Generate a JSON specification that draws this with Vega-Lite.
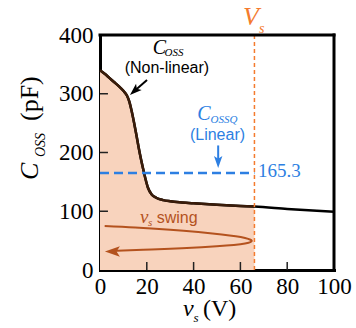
{
  "$schema": "https://vega.github.io/schema/vega-lite/v6.json",
  "width": 234,
  "height": 235,
  "autosize": "none",
  "padding": {"left": 100, "top": 35, "right": 22, "bottom": 58},
  "config": {
    "view": {"stroke": null},
    "axis": {
      "labelFont": "Liberation Serif",
      "labelFontSize": 23,
      "labelColor": "black",
      "ticks": false,
      "domainColor": "black",
      "domainWidth": 3,
      "domainCap": "square",
      "grid": false,
      "title": null,
      "zindex": 1
    }
  },
  "datasets": {
    "coss": [
      {"v": 0, "c": 340}, {"v": 2, "c": 334}, {"v": 4, "c": 327}, {"v": 6, "c": 320},
      {"v": 8, "c": 313}, {"v": 10, "c": 305}, {"v": 11.5, "c": 297}, {"v": 12.5, "c": 287},
      {"v": 13.5, "c": 271}, {"v": 14.5, "c": 252}, {"v": 15.5, "c": 231}, {"v": 16.5, "c": 209},
      {"v": 17.5, "c": 189}, {"v": 18.5, "c": 171}, {"v": 19.5, "c": 154}, {"v": 20.5, "c": 140},
      {"v": 22, "c": 129}, {"v": 24, "c": 123}, {"v": 27, "c": 119}, {"v": 30, "c": 117},
      {"v": 35, "c": 115}, {"v": 40, "c": 113.5}, {"v": 50, "c": 111}, {"v": 60, "c": 109},
      {"v": 66, "c": 108}, {"v": 80, "c": 104}, {"v": 100, "c": 99}
    ],
    "swing": [
      {"o": 1, "v": 2, "c": 75}, {"o": 2, "v": 15, "c": 72.5}, {"o": 3, "v": 30, "c": 68.5},
      {"o": 4, "v": 42, "c": 64.5}, {"o": 5, "v": 52, "c": 60.5}, {"o": 6, "v": 58, "c": 57.5},
      {"o": 7, "v": 62, "c": 54.5}, {"o": 8, "v": 64.3, "c": 51.5}, {"o": 9, "v": 64.8, "c": 49},
      {"o": 10, "v": 63.5, "c": 46.5}, {"o": 11, "v": 60, "c": 44}, {"o": 12, "v": 54, "c": 41.5},
      {"o": 13, "v": 45, "c": 39}, {"o": 14, "v": 35, "c": 37}, {"o": 15, "v": 22, "c": 35},
      {"o": 16, "v": 10, "c": 33}, {"o": 17, "v": 5, "c": 32}
    ],
    "xticks": [{"v": 20, "c": 0, "c2": 13.6}, {"v": 40, "c": 0, "c2": 13.6}, {"v": 60, "c": 0, "c2": 13.6}, {"v": 80, "c": 0, "c2": 13.6}],
    "yticks": [{"c": 100, "v": 0, "v2": 3.4}, {"c": 200, "v": 0, "v2": 3.4}, {"c": 300, "v": 0, "v2": 3.4}]
  },
  "layer": [
    {
      "data": {"name": "coss"},
      "transform": [{"filter": "datum.v <= 66"}],
      "mark": {"type": "area", "color": "#F8D3BD", "interpolate": "monotone", "opacity": 1},
      "encoding": {
        "x": {"field": "v", "type": "quantitative", "scale": {"domain": [0, 100], "nice": false},
              "axis": {"values": [0, 20, 40, 60, 80, 100], "labelPadding": 5, "labelFlush": false}},
        "y": {"field": "c", "type": "quantitative", "scale": {"domain": [0, 400], "nice": false},
              "axis": {"values": [0, 100, 200, 300, 400], "labelPadding": 7}}
      }
    },
    {
      "data": {"name": "xticks"},
      "mark": {"type": "rule", "color": "#222", "strokeWidth": 1.5},
      "encoding": {
        "x": {"field": "v", "type": "quantitative"},
        "y": {"field": "c", "type": "quantitative"},
        "y2": {"field": "c2"}
      }
    },
    {
      "data": {"name": "yticks"},
      "mark": {"type": "rule", "color": "#222", "strokeWidth": 1.5},
      "encoding": {
        "x": {"field": "v", "type": "quantitative"},
        "x2": {"field": "v2"},
        "y": {"field": "c", "type": "quantitative"}
      }
    },
    {
      "data": {"name": "coss"},
      "mark": {"type": "line", "color": "black", "strokeWidth": 2.5, "interpolate": "monotone"},
      "encoding": {
        "x": {"field": "v", "type": "quantitative"},
        "y": {"field": "c", "type": "quantitative"}
      }
    },
    {
      "data": {"name": "coss"},
      "transform": [{"filter": "datum.v <= 66"}],
      "mark": {"type": "line", "color": "#3A1C0A", "strokeWidth": 2.5, "interpolate": "monotone"},
      "encoding": {
        "x": {"field": "v", "type": "quantitative"},
        "y": {"field": "c", "type": "quantitative"}
      }
    },
    {
      "data": {"values": [{"c": 165.3, "v1": 0, "v2": 66}]},
      "mark": {"type": "rule", "color": "#2D7FE2", "strokeWidth": 2.5, "strokeDash": [9, 5]},
      "encoding": {
        "x": {"field": "v1", "type": "quantitative"},
        "x2": {"field": "v2"},
        "y": {"field": "c", "type": "quantitative"}
      }
    },
    {
      "data": {"values": [{"v": 66, "c1": 0, "c2": 404}]},
      "mark": {"type": "rule", "color": "#F47B2E", "strokeWidth": 1.5, "strokeDash": [4, 3]},
      "encoding": {
        "x": {"field": "v", "type": "quantitative"},
        "y": {"field": "c1", "type": "quantitative"},
        "y2": {"field": "c2"}
      }
    },
    {
      "data": {"name": "swing"},
      "mark": {"type": "line", "color": "#B4521E", "strokeWidth": 2, "interpolate": "cardinal"},
      "encoding": {
        "x": {"field": "v", "type": "quantitative"},
        "y": {"field": "c", "type": "quantitative"},
        "order": {"field": "o", "type": "quantitative"}
      }
    },
    {
      "data": {"values": [{"v": 5.3, "c": 31.5}]},
      "mark": {"type": "point", "shape": "M0,-1L0.7,1L0,0.55L-0.7,1Z", "size": 225, "angle": 270, "filled": true, "color": "#B4521E", "opacity": 1},
      "encoding": {
        "x": {"field": "v", "type": "quantitative"},
        "y": {"field": "c", "type": "quantitative"}
      }
    },
    {
      "data": {"values": [{"v": 20.1, "c": 323.4}, {"v": 14.7, "c": 304.7}]},
      "mark": {"type": "line", "color": "black", "strokeWidth": 2},
      "encoding": {
        "x": {"field": "v", "type": "quantitative"},
        "y": {"field": "c", "type": "quantitative"}
      }
    },
    {
      "data": {"values": [{"v": 14.7, "c": 304.7}]},
      "mark": {"type": "point", "shape": "M0,-1L0.7,1L0,0.55L-0.7,1Z", "size": 144, "angle": 228, "filled": true, "color": "black", "opacity": 1},
      "encoding": {
        "x": {"field": "v", "type": "quantitative"},
        "y": {"field": "c", "type": "quantitative"}
      }
    },
    {
      "data": {"values": [{"v": 50.5, "c": 212}, {"v": 50.5, "c": 184}]},
      "mark": {"type": "line", "color": "#2D7FE2", "strokeWidth": 2},
      "encoding": {
        "x": {"field": "v", "type": "quantitative"},
        "y": {"field": "c", "type": "quantitative"}
      }
    },
    {
      "data": {"values": [{"v": 50.5, "c": 183.8}]},
      "mark": {"type": "point", "shape": "M0,-1L0.7,1L0,0.55L-0.7,1Z", "size": 144, "angle": 180, "filled": true, "color": "#2D7FE2", "opacity": 1},
      "encoding": {
        "x": {"field": "v", "type": "quantitative"},
        "y": {"field": "c", "type": "quantitative"}
      }
    },
    {
      "data": {"values": [{"v": 0, "v2": 100, "c": 400}]},
      "mark": {"type": "rule", "color": "black", "strokeWidth": 3, "strokeCap": "square"},
      "encoding": {
        "x": {"field": "v", "type": "quantitative"},
        "x2": {"field": "v2"},
        "y": {"field": "c", "type": "quantitative"}
      }
    },
    {
      "data": {"values": [{"v": 100, "c": 0, "c2": 400}]},
      "mark": {"type": "rule", "color": "black", "strokeWidth": 3, "strokeCap": "square"},
      "encoding": {
        "x": {"field": "v", "type": "quantitative"},
        "y": {"field": "c", "type": "quantitative"},
        "y2": {"field": "c2"}
      }
    },
    {
      "data": {"values": [{"v": 22.5, "c": 368, "t": "C"}]},
      "mark": {"type": "text", "font": "Liberation Serif", "fontStyle": "italic", "fontSize": 20, "align": "left", "baseline": "alphabetic", "color": "black"},
      "encoding": {
        "x": {"field": "v", "type": "quantitative"},
        "y": {"field": "c", "type": "quantitative"},
        "text": {"field": "t"}
      }
    },
    {
      "data": {"values": [{"v": 27.6, "c": 364.5, "t": "OSS"}]},
      "mark": {"type": "text", "font": "Liberation Serif", "fontStyle": "italic", "fontSize": 11, "align": "left", "baseline": "alphabetic", "color": "black"},
      "encoding": {
        "x": {"field": "v", "type": "quantitative"},
        "y": {"field": "c", "type": "quantitative"},
        "text": {"field": "t"}
      }
    },
    {
      "data": {"values": [{"v": 28.6, "c": 336, "t": "(Non-linear)"}]},
      "mark": {"type": "text", "font": "Liberation Sans", "fontSize": 16, "align": "center", "baseline": "alphabetic", "color": "black"},
      "encoding": {
        "x": {"field": "v", "type": "quantitative"},
        "y": {"field": "c", "type": "quantitative"},
        "text": {"field": "t"}
      }
    },
    {
      "data": {"values": [{"v": 41.6, "c": 255, "t": "C"}]},
      "mark": {"type": "text", "font": "Liberation Serif", "fontStyle": "italic", "fontSize": 20, "align": "left", "baseline": "alphabetic", "color": "#2D7FE2"},
      "encoding": {
        "x": {"field": "v", "type": "quantitative"},
        "y": {"field": "c", "type": "quantitative"},
        "text": {"field": "t"}
      }
    },
    {
      "data": {"values": [{"v": 47.2, "c": 251, "t": "OSSQ"}]},
      "mark": {"type": "text", "font": "Liberation Serif", "fontStyle": "italic", "fontSize": 11, "align": "left", "baseline": "alphabetic", "color": "#2D7FE2"},
      "encoding": {
        "x": {"field": "v", "type": "quantitative"},
        "y": {"field": "c", "type": "quantitative"},
        "text": {"field": "t"}
      }
    },
    {
      "data": {"values": [{"v": 50.2, "c": 221.3, "t": "(Linear)"}]},
      "mark": {"type": "text", "font": "Liberation Sans", "fontSize": 16, "align": "center", "baseline": "alphabetic", "color": "#2D7FE2"},
      "encoding": {
        "x": {"field": "v", "type": "quantitative"},
        "y": {"field": "c", "type": "quantitative"},
        "text": {"field": "t"}
      }
    },
    {
      "data": {"values": [{"v": 67.5, "c": 158.3, "t": "165.3"}]},
      "mark": {"type": "text", "font": "Liberation Serif", "fontSize": 19, "align": "left", "baseline": "alphabetic", "color": "#2D7FE2"},
      "encoding": {
        "x": {"field": "v", "type": "quantitative"},
        "y": {"field": "c", "type": "quantitative"},
        "text": {"field": "t"}
      }
    },
    {
      "data": {"values": [{"v": 61.1, "c": 417, "t": "V"}]},
      "mark": {"type": "text", "font": "Liberation Serif", "fontStyle": "italic", "fontSize": 26, "align": "left", "baseline": "alphabetic", "color": "#F47B2E"},
      "encoding": {
        "x": {"field": "v", "type": "quantitative"},
        "y": {"field": "c", "type": "quantitative"},
        "text": {"field": "t"}
      }
    },
    {
      "data": {"values": [{"v": 68, "c": 404, "t": "s"}]},
      "mark": {"type": "text", "font": "Liberation Serif", "fontStyle": "italic", "fontSize": 14, "align": "left", "baseline": "alphabetic", "color": "#F47B2E"},
      "encoding": {
        "x": {"field": "v", "type": "quantitative"},
        "y": {"field": "c", "type": "quantitative"},
        "text": {"field": "t"}
      }
    },
    {
      "data": {"values": [{"v": 17.1, "c": 79.5, "t": "v"}]},
      "mark": {"type": "text", "font": "Liberation Serif", "fontStyle": "italic", "fontSize": 19, "align": "left", "baseline": "alphabetic", "color": "#B4521E"},
      "encoding": {
        "x": {"field": "v", "type": "quantitative"},
        "y": {"field": "c", "type": "quantitative"},
        "text": {"field": "t"}
      }
    },
    {
      "data": {"values": [{"v": 20.5, "c": 74.9, "t": "s"}]},
      "mark": {"type": "text", "font": "Liberation Serif", "fontStyle": "italic", "fontSize": 11, "align": "left", "baseline": "alphabetic", "color": "#B4521E"},
      "encoding": {
        "x": {"field": "v", "type": "quantitative"},
        "y": {"field": "c", "type": "quantitative"},
        "text": {"field": "t"}
      }
    },
    {
      "data": {"values": [{"v": 24.2, "c": 80, "t": "swing"}]},
      "mark": {"type": "text", "font": "Liberation Sans", "fontSize": 16, "align": "left", "baseline": "alphabetic", "color": "#B4521E"},
      "encoding": {
        "x": {"field": "v", "type": "quantitative"},
        "y": {"field": "c", "type": "quantitative"},
        "text": {"field": "t"}
      }
    },
    {
      "data": {"values": [{"v": 35.5, "c": -79, "t": "v"}]},
      "mark": {"type": "text", "font": "Liberation Serif", "fontStyle": "italic", "fontSize": 24, "align": "left", "baseline": "alphabetic", "color": "black"},
      "encoding": {
        "x": {"field": "v", "type": "quantitative"},
        "y": {"field": "c", "type": "quantitative"},
        "text": {"field": "t"}
      }
    },
    {
      "data": {"values": [{"v": 40, "c": -88.5, "t": "s"}]},
      "mark": {"type": "text", "font": "Liberation Serif", "fontStyle": "italic", "fontSize": 13, "align": "left", "baseline": "alphabetic", "color": "black"},
      "encoding": {
        "x": {"field": "v", "type": "quantitative"},
        "y": {"field": "c", "type": "quantitative"},
        "text": {"field": "t"}
      }
    },
    {
      "data": {"values": [{"v": 44, "c": -79, "t": "(V)"}]},
      "mark": {"type": "text", "font": "Liberation Serif", "fontSize": 24, "align": "left", "baseline": "alphabetic", "color": "black"},
      "encoding": {
        "x": {"field": "v", "type": "quantitative"},
        "y": {"field": "c", "type": "quantitative"},
        "text": {"field": "t"}
      }
    },
    {
      "data": {"values": [{"v": -26.5, "c": 153.2, "t": "C"}]},
      "mark": {"type": "text", "font": "Liberation Serif", "fontStyle": "italic", "fontSize": 26, "angle": 270, "align": "left", "baseline": "alphabetic", "color": "black"},
      "encoding": {
        "x": {"field": "v", "type": "quantitative"},
        "y": {"field": "c", "type": "quantitative"},
        "text": {"field": "t"}
      }
    },
    {
      "data": {"values": [{"v": -26.5, "c": 253.6, "t": "(pF)"}]},
      "mark": {"type": "text", "font": "Liberation Serif", "fontSize": 26, "angle": 270, "align": "left", "baseline": "alphabetic", "color": "black"},
      "encoding": {
        "x": {"field": "v", "type": "quantitative"},
        "y": {"field": "c", "type": "quantitative"},
        "text": {"field": "t"}
      }
    },
    {
      "data": {"values": [{"v": -23.5, "c": 192.3, "t": "OSS"}]},
      "mark": {"type": "text", "font": "Liberation Serif", "fontStyle": "italic", "fontSize": 14, "angle": 270, "align": "left", "baseline": "alphabetic", "color": "black"},
      "encoding": {
        "x": {"field": "v", "type": "quantitative"},
        "y": {"field": "c", "type": "quantitative"},
        "text": {"field": "t"}
      }
    }
  ]
}
